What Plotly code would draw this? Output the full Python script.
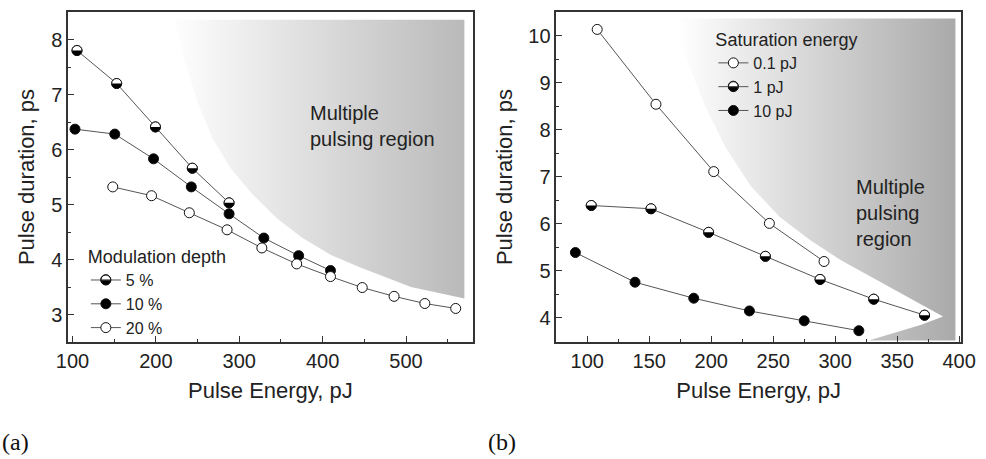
import plotly.graph_objects as go

# ---------------- data: panel (a) ----------------
a_x_5 = [105.4, 153, 199.5, 243.7, 287.8]
a_y_5 = [7.80, 7.20, 6.41, 5.66, 5.03]
a_x_10 = [103, 150.7, 197.2, 242.5, 287.8, 329.5, 371.2, 409.4]
a_y_10 = [6.37, 6.28, 5.83, 5.32, 4.83, 4.39, 4.07, 3.80]
a_x_20 = [148.3, 194.8, 240.1, 285.4, 327.1, 368.9, 409.4, 447.5, 485.7, 522.6, 559.6]
a_y_20 = [5.32, 5.16, 4.85, 4.54, 4.21, 3.92, 3.69, 3.49, 3.33, 3.20, 3.11]
a_names = ["5 %", "10 %", "20 %"]

# multiple pulsing region (a): boundary
a_reg_x = [222, 570, 570, 506, 446, 410, 375, 345, 315, 290, 268, 250, 235, 222]
a_reg_y = [8.36, 8.36, 3.29, 3.50, 3.85, 4.08, 4.40, 4.75, 5.20, 5.65, 6.20, 6.85, 7.60, 8.36]

# ---------------- data: panel (b) ----------------
b_x_01 = [108, 155.4, 202, 246.9, 291]
b_y_01 = [10.13, 8.54, 7.11, 6.01, 5.20]
b_x_1 = [103.2, 151.4, 197.9, 243.7, 287.8, 331.1, 372.1]
b_y_1 = [6.39, 6.32, 5.82, 5.31, 4.82, 4.40, 4.06]
b_x_10 = [90.4, 138.5, 185.9, 230.8, 275, 319.1]
b_y_10 = [5.39, 4.76, 4.42, 4.15, 3.94, 3.73]
b_names = ["0.1 pJ", "1 pJ", "10 pJ"]

b_reg_x = [168, 397, 397, 327, 350, 370, 387, 358, 330, 305, 280, 255, 232, 212, 195, 180, 168]
b_reg_y = [10.36, 10.36, 3.52, 3.52, 3.70, 3.86, 4.03, 4.45, 4.85, 5.22, 5.65, 6.15, 6.80, 7.60, 8.50, 9.50, 10.36]

FONT = "Liberation Sans, Arial, sans-serif"
TXT = "#222222"
LINE = "#555555"
EDGE = "#111111"
MS = 10
CLEAR = "rgba(0,0,0,0)"

fig = go.Figure()

# shaded regions
fig.add_trace(go.Scatter(x=a_reg_x, y=a_reg_y, mode="lines", fill="toself",
                         line=dict(width=0), showlegend=False, hoverinfo="skip",
                         fillgradient=dict(type="horizontal", start=215, stop=570,
                                           colorscale=[[0, "#ffffff"], [1, "#b9b9b9"]]),
                         xaxis="x", yaxis="y"))
fig.add_trace(go.Scatter(x=b_reg_x, y=b_reg_y, mode="lines", fill="toself",
                         line=dict(width=0), showlegend=False, hoverinfo="skip",
                         fillgradient=dict(type="horizontal", start=172, stop=397,
                                           colorscale=[[0, "#ffffff"], [1, "#a9a9a9"]]),
                         xaxis="x2", yaxis="y2"))

def series(x, y, name, fill, ax, ay, leg):
    fig.add_trace(go.Scatter(x=x, y=y, name=name, mode="lines+markers",
                             line=dict(color=LINE, width=1),
                             marker=dict(symbol="circle", size=MS, color=fill,
                                         line=dict(color=EDGE, width=1)),
                             xaxis=ax, yaxis=ay, legend=leg))

# half-filled series get their fill from shapes (white disc + black lower half)
series(a_x_5, a_y_5, a_names[0], CLEAR, "x", "y", "legend")
series(a_x_10, a_y_10, a_names[1], "black", "x", "y", "legend")
series(a_x_20, a_y_20, a_names[2], "white", "x", "y", "legend")
series(b_x_01, b_y_01, b_names[0], "white", "x2", "y2", "legend2")
series(b_x_1, b_y_1, b_names[1], CLEAR, "x2", "y2", "legend2")
series(b_x_10, b_y_10, b_names[2], "black", "x2", "y2", "legend2")

R = 5.0
K = 0.5523 * R
half_path = (f"M{-R},0 C{-R},{-K} {-K},{-R} 0,{-R} "
             f"C{K},{-R} {R},{-K} {R},0 Z")

def half_marker(xr, yr, xv, yv):
    common = dict(xref=xr, yref=yr, xsizemode="pixel", ysizemode="pixel",
                  xanchor=xv, yanchor=yv, layer="above")
    return [
        dict(type="circle", x0=-R, x1=R, y0=-R, y1=R, fillcolor="white",
             line=dict(color=EDGE, width=1), **common),
        dict(type="path", path=half_path, fillcolor="black", line=dict(width=0), **common),
    ]

shapes = []
for xs, ys, xr, yr in [(a_x_5, a_y_5, "x", "y"), (b_x_1, b_y_1, "x2", "y2")]:
    for xv, yv in zip(xs, ys):
        shapes += half_marker(xr, yr, xv, yv)

# layout geometry
W, H = 986, 459
ML, MR, MT, MB = 68, 20, 10, 116.5
PW = W - ML - MR
PH = H - MT - MB

LEG_ITEM = 16
LEG_TITLE = 18
ITEM_H = LEG_ITEM * 1.3 + 3
leg_a = dict(x=0.020, y=0.31)
leg_b = dict(x=0.7227, y=0.968)

def legend_item_paper(leg, idx):
    # center of a legend item's symbol in paper coords
    top_px = (1 - leg["y"]) * PH
    off = LEG_TITLE * 1.3 + ITEM_H / 2 + 5 + idx * ITEM_H
    return leg["x"] + 20 / PW, 1 - (top_px + off) / PH

# fill for the legend symbol of the half-filled series (legend draws its outline on top)
for leg, idx in ((leg_a, 0), (leg_b, 1)):
    px, py = legend_item_paper(leg, idx)
    shapes += half_marker("paper", "paper", px, py)

axis_common = dict(showline=True, mirror=True, linecolor="#333333", linewidth=1.5,
                   showgrid=False, zeroline=False, ticks="inside", ticklen=6,
                   tickcolor="#333333", tickwidth=1.2,
                   tickfont=dict(family=FONT, size=20, color=TXT),
                   title_font=dict(family=FONT, size=22, color=TXT))

fig.update_layout(
    width=W, height=H,
    margin=dict(l=ML, r=MR, t=MT, b=MB),
    paper_bgcolor="white", plot_bgcolor="white",
    font=dict(family=FONT, color=TXT),
    xaxis=dict(domain=[0, 0.4532], range=[94.6, 580], tick0=100, dtick=100,
               minor=dict(ticks="inside", dtick=50, ticklen=3, tickcolor="#333333"),
               title=dict(text="Pulse Energy, pJ", standoff=12), anchor="y", **axis_common),
    yaxis=dict(domain=[0, 1], range=[2.5, 8.5], tick0=0, dtick=1,
               minor=dict(ticks="inside", dtick=0.5, ticklen=3, tickcolor="#333333"),
               title=dict(text="Pulse duration, ps", standoff=10), anchor="x", **axis_common),
    xaxis2=dict(domain=[0.5468, 1], range=[75, 401.5], tick0=0, dtick=50,
                minor=dict(ticks="inside", dtick=25, ticklen=3, tickcolor="#333333"),
                title=dict(text="Pulse Energy, pJ", standoff=12), anchor="y2", **axis_common),
    yaxis2=dict(domain=[0, 1], range=[3.49, 10.5], tick0=0, dtick=1,
                minor=dict(ticks="inside", dtick=0.5, ticklen=3, tickcolor="#333333"),
                title=dict(text="Pulse duration, ps", standoff=10), anchor="x2", **axis_common),
    legend=dict(x=leg_a["x"], y=leg_a["y"], xanchor="left", yanchor="top",
                bgcolor=CLEAR, borderwidth=0, itemwidth=30,
                font=dict(family=FONT, size=LEG_ITEM, color=TXT),
                title=dict(text="Modulation depth", font=dict(family=FONT, size=LEG_TITLE, color=TXT))),
    legend2=dict(x=leg_b["x"], y=leg_b["y"], xanchor="left", yanchor="top",
                 bgcolor=CLEAR, borderwidth=0, itemwidth=30,
                 font=dict(family=FONT, size=LEG_ITEM, color=TXT),
                 title=dict(text="Saturation energy", font=dict(family=FONT, size=LEG_TITLE, color=TXT))),
    shapes=shapes,
    annotations=[
        dict(x=383, y=6.9, xref="x", yref="y", xanchor="left", yanchor="top", align="left",
             text="Multiple<br>pulsing region", showarrow=False,
             font=dict(family=FONT, size=20, color=TXT)),
        dict(x=315, y=7.05, xref="x2", yref="y2", xanchor="left", yanchor="top", align="left",
             text="Multiple<br>pulsing<br>region", showarrow=False,
             font=dict(family=FONT, size=20, color=TXT)),
        dict(x=-ML / PW, y=1 - (443 - MT) / PH, xref="paper", yref="paper", xanchor="left",
             yanchor="middle", text="(a)", showarrow=False,
             font=dict(family="Liberation Serif, Times New Roman, serif", size=24, color="#111111")),
        dict(x=(488 - ML) / PW, y=1 - (443 - MT) / PH, xref="paper", yref="paper", xanchor="left",
             yanchor="middle", text="(b)", showarrow=False,
             font=dict(family="Liberation Serif, Times New Roman, serif", size=24, color="#111111")),
    ],
)

fig.write_html("out.html")
